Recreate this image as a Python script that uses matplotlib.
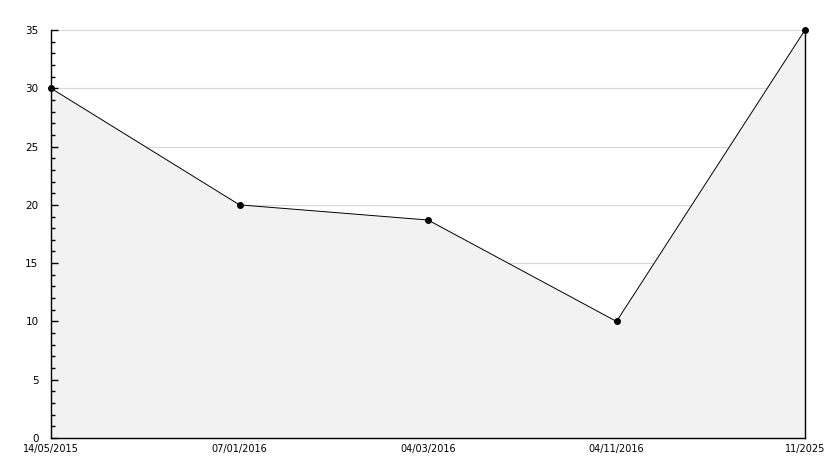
import numpy as np
import matplotlib
matplotlib.use("Agg")
import matplotlib.pyplot as plt
from matplotlib.ticker import MultipleLocator

# data
dates = ["14/05/2015", "07/01/2016", "04/03/2016", "04/11/2016", "11/2025"]
values = [30, 20, 18.7, 10, 35]
grid_levels = [5, 10, 15, 20, 25, 30, 35]

x = np.arange(len(dates))

fig = plt.figure(figsize=(8.34, 4.68), dpi=100)
ax = fig.add_axes([51/834, 30/468, (805-51)/834, (438-30)/468])

# grid lines sit under the filled area
for g in grid_levels:
    ax.axhline(g, color="#d8d8d8", linewidth=0.8, zorder=0.5)

ax.fill_between(x, values, 0, facecolor="#f2f2f2", edgecolor="none", zorder=1)
ax.plot(x, values, color="black", linewidth=0.7, marker="o", markersize=4,
        zorder=5, clip_on=False)

ax.set_xlim(0, len(dates) - 1)
ax.set_ylim(0, 35)
ax.yaxis.set_major_locator(MultipleLocator(5))
ax.yaxis.set_minor_locator(MultipleLocator(1))

ax.set_xticks(x)
ax.set_xticklabels(dates)
ax.tick_params(axis="x", length=0, pad=4, labelsize=7)
ax.tick_params(axis="y", which="major", direction="in", length=5, width=1, labelsize=7.5, pad=9)
ax.tick_params(axis="y", which="minor", direction="in", length=3, width=1)

ax.spines["top"].set_visible(False)
for s in ["left", "bottom", "right"]:
    ax.spines[s].set_linewidth(1)
    ax.spines[s].set_zorder(4)

fig.savefig("out.png", dpi=100)
